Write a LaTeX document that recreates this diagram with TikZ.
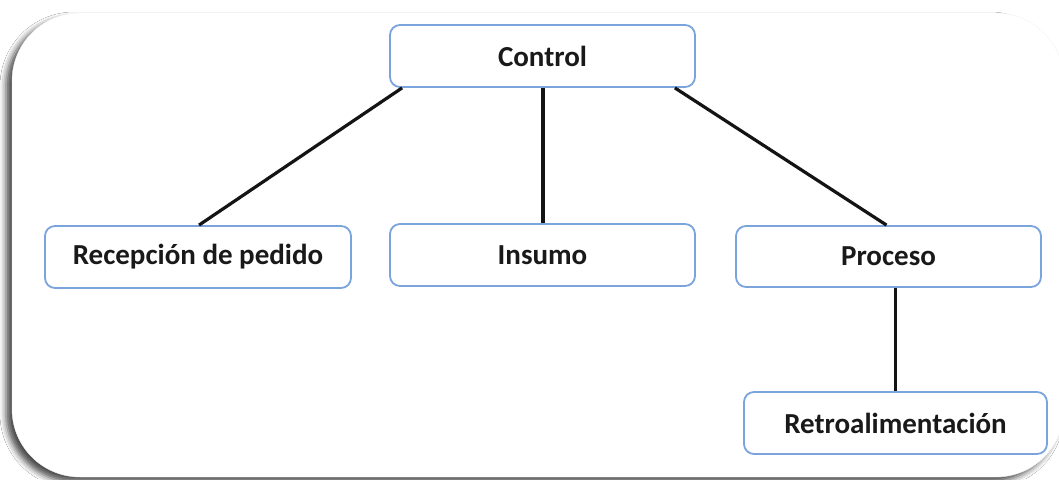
\documentclass[tikz,border=0pt]{standalone}
\usepackage{fontspec}
\setmainfont{Carlito}
\usetikzlibrary{shadows.blur}
\definecolor{boxblue}{HTML}{7BA3DC}
\begin{document}
\begin{tikzpicture}[x=1pt,y=-1pt,
 box/.style={draw=boxblue, line width=1.8pt, rounded corners=10pt, fill=white,
   font=\fontsize{29}{33}\selectfont\bfseries, text=black!90, inner sep=0pt},
 link/.style={line width=3.2pt, draw=black!92}]
\useasboundingbox (0,0) rectangle (1059,479);
\clip (0,0) rectangle (1059,479);
\fill[white] (0,0) rectangle (1059,479);
\path[fill=white, draw=gray!10, rounded corners=68pt,
  blur shadow={shadow xshift=-6pt, shadow yshift=-5pt, shadow blur radius=6pt, shadow opacity=70}]
  (12,13) rectangle (1064,477);
\node[box, minimum width=305pt, minimum height=62pt] (ctrl) at (542.5,56) {Control};
\node[box, minimum width=306pt, minimum height=62pt] (rec) at (198,257) {Recepción de pedido};
\node[box, minimum width=305pt, minimum height=62pt] (ins) at (542.5,255) {Insumo};
\node[box, minimum width=305pt, minimum height=61pt] (proc) at (888.5,256.5) {Proceso};
\node[box, minimum width=303pt, minimum height=62pt] (retro) at (895.5,423) {Retroalimentación};
\draw[link] ([xshift=13pt]ctrl.south west) -- ([xshift=1pt]rec.north);
\draw[link] ([xshift=0.5pt]ctrl.south) -- ([xshift=0.5pt]ins.north);
\draw[link] ([xshift=-21pt]ctrl.south east) -- ([xshift=-2pt]proc.north);
\draw[link] (retro.north |- proc.south) -- (retro.north);
\end{tikzpicture}
\end{document}
